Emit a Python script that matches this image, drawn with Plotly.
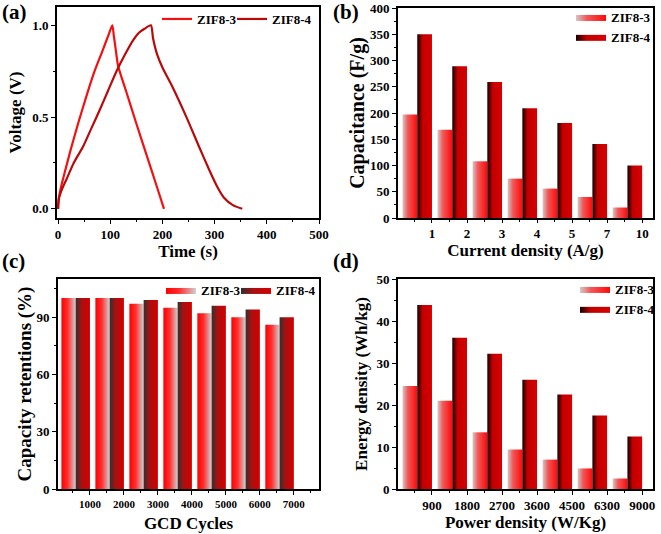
import plotly.graph_objects as go

FONT = "Liberation Serif"

# ---------------- data ----------------
# (a) GCD curves
time_zif3 = [0, 1, 5, 12, 25, 40, 55, 70, 85, 97, 104, 107, 110, 115, 130, 150, 170, 190, 203]
volt_zif3 = [0.0, 0.05, 0.11, 0.19, 0.33, 0.48, 0.62, 0.75, 0.86, 0.95, 1.0, 0.94, 0.88, 0.78, 0.645, 0.465, 0.29, 0.115, 0.0]
time_zif4 = [0, 2, 8, 16, 30, 48, 64, 80, 96, 112, 128, 144, 155, 165, 178,
             182, 190, 200, 220, 246, 270, 290, 305, 318, 335, 353]
volt_zif4 = [0.0, 0.06, 0.11, 0.16, 0.25, 0.34, 0.44, 0.54, 0.645, 0.75, 0.84, 0.92, 0.96, 0.98, 1.0,
             0.93, 0.84, 0.77, 0.66, 0.5, 0.34, 0.21, 0.12, 0.06, 0.02, 0.0]

# (b) capacitance
current_density = ["1", "2", "3", "4", "5", "7", "10"]
cap_zif3 = [197, 168, 108, 75, 56, 40, 20]
cap_zif4 = [350, 289, 259, 209, 181, 141, 100]

# (c) capacity retention
cycles = ["1000", "2000", "3000", "4000", "5000", "6000", "7000"]
ret_zif3 = [100, 100, 97, 95, 92, 90, 86]
ret_zif4 = [100, 100, 99, 98, 96, 94, 90]

# (d) Ragone
power_density = ["900", "1800", "2700", "3600", "4500", "6300", "9000"]
energy_zif3 = [24.5, 21, 13.5, 9.4, 7, 4.9, 2.5]
energy_zif4 = [43.8, 36, 32.2, 26, 22.5, 17.5, 12.5]

# ---------------- styles ----------------
BAR_W = 0.42
CS3_BD = [[0, "#d6c6c6"], [0.35, "#f05a5a"], [1, "#ff0808"]]
CS4_BD = [[0, "#120000"], [0.35, "#c00000"], [1, "#d80000"]]
CS3_C = [[0, "#ff0000"], [0.45, "#ff3030"], [1, "#d0d0d0"]]
CS4_C = [[0, "#303030"], [0.4, "#a81010"], [1, "#d40000"]]

fig = go.Figure()

# (a) lines
fig.add_trace(go.Scatter(x=time_zif3, y=volt_zif3, mode="lines", name="ZIF8-3", legendwidth=30,
                         line=dict(color="#f41010", width=2.2, shape="spline", smoothing=0.6),
                         xaxis="x", yaxis="y", legend="legend"))
fig.add_trace(go.Scatter(x=time_zif4, y=volt_zif4, mode="lines", name="ZIF8-4", legendwidth=44,
                         line=dict(color="#b80a0a", width=2.2, shape="spline", smoothing=0.6),
                         xaxis="x", yaxis="y", legend="legend"))


def add_bars(vals, slot, xa, ya, name, cs, legend, lw=None):
    for i, v in enumerate(vals):
        k = i + 1
        x0 = k - BAR_W * (2 - slot)
        x1 = x0 + BAR_W
        fig.add_trace(go.Scatter(
            x=[x0, x0, x1, x1, x0], y=[0, v, v, 0, 0],
            mode="lines", fill="toself", line=dict(width=0, color="rgba(0,0,0,0)"),
            fillgradient=dict(type="horizontal", colorscale=cs),
            name=name, legendgroup=legend + name, showlegend=(i == 0), legend=legend,
            legendwidth=lw, xaxis=xa, yaxis=ya, hoverinfo="skip"))


add_bars(cap_zif3, 0, "x2", "y2", "ZIF8-3", CS3_BD, "legend2")
add_bars(cap_zif4, 1, "x2", "y2", "ZIF8-4", CS4_BD, "legend2")
add_bars(ret_zif3, 0, "x3", "y3", "ZIF8-3", CS3_C, "legend3", lw=30)
add_bars(ret_zif4, 1, "x3", "y3", "ZIF8-4", CS4_C, "legend3", lw=44)
add_bars(energy_zif3, 0, "x4", "y4", "ZIF8-3", CS3_BD, "legend4")
add_bars(energy_zif4, 1, "x4", "y4", "ZIF8-4", CS4_BD, "legend4")

W, H = 661, 534


def px(x0, x1):
    return [x0 / W, x1 / W]


def py(top, bottom):
    return [1 - bottom / H, 1 - top / H]


def tfont(size=13):
    return dict(family=FONT, size=size, color="black", weight="bold")


def axis(domain, rng, title, tsize=17, standoff=4, **kw):
    d = dict(domain=domain, range=rng, showline=True, linecolor="black", linewidth=1.6,
             mirror=True, ticks="outside", ticklen=4, tickwidth=1.3, tickcolor="black",
             showgrid=False, zeroline=False, tickfont=tfont(13), automargin=False,
             title=dict(text=title, font=tfont(tsize), standoff=standoff))
    d.update(kw)
    return d


minor_cat = dict(tickmode="array", tickvals=[k + 0.5 for k in range(0, 8)],
                 ticks="outside", ticklen=2.5, tickwidth=1, tickcolor="black")

fig.update_layout(
    width=W, height=H, margin=dict(l=0, r=0, t=0, b=0, autoexpand=False),
    paper_bgcolor="white", plot_bgcolor="white",
    font=dict(family=FONT, color="black"),
    xaxis=axis(px(57, 319), [-2, 500], "Time (s)", anchor="y", tickvals=[0, 100, 200, 300, 400, 500],
               minor=dict(dtick=50, ticks="outside", ticklen=2.5, tickwidth=1, tickcolor="black")),
    yaxis=axis(py(7, 218), [-0.05, 1.1], "Voltage (V)", anchor="x", tickvals=[0, 0.5, 1.0],
               tickformat=".1f", standoff=6,
               minor=dict(dtick=0.25, ticks="outside", ticklen=2.5, tickwidth=1, tickcolor="black")),
    xaxis2=axis(px(398, 653), [0.03, 7.31], "Current density (A/g)", anchor="y2", standoff=0,
                ticklen=3, tickmode="array", tickvals=list(range(1, 8)), ticktext=current_density,
                minor=minor_cat),
    yaxis2=axis(py(8, 218), [0, 400], "Capacitance (F/g)", tsize=20, anchor="x2", dtick=50, standoff=0,
                minor=dict(dtick=25, ticks="outside", ticklen=2.5, tickwidth=1, tickcolor="black")),
    xaxis3=axis(px(58, 319), [0.06, 7.74], "GCD Cycles", anchor="y3", standoff=8,
                tickmode="array", tickvals=list(range(1, 8)), ticktext=cycles, minor=minor_cat,
                tickfont=tfont(11)),
    yaxis3=axis(py(279, 489), [0, 110], "Capacity retentions (%)", tsize=19, anchor="x3",
                tickvals=[0, 30, 60, 90], standoff=0,
                minor=dict(dtick=15, ticks="outside", ticklen=2.5, tickwidth=1, tickcolor="black")),
    xaxis4=axis(px(398, 653), [0.03, 7.31], "Power density (W/Kg)", anchor="y4",
                tickmode="array", tickvals=list(range(1, 8)), ticktext=power_density, minor=minor_cat),
    yaxis4=axis(py(279, 489), [0, 50], "Energy density (Wh/kg)", anchor="x4", dtick=10, standoff=5,
                minor=dict(dtick=5, ticks="outside", ticklen=2.5, tickwidth=1, tickcolor="black")),
    legend=dict(x=157 / W, y=1 - 4 / H, xanchor="left", yanchor="top", orientation="h",
                font=tfont(13), bgcolor="rgba(0,0,0,0)", tracegroupgap=0),
    legend2=dict(x=571 / W, y=1 - 2 / H, xanchor="left", yanchor="top",
                 font=tfont(13), bgcolor="rgba(0,0,0,0)", tracegroupgap=0),
    legend3=dict(x=161 / W, y=1 - 275 / H, xanchor="left", yanchor="top", orientation="h",
                 font=tfont(13), bgcolor="rgba(0,0,0,0)", tracegroupgap=0),
    legend4=dict(x=575 / W, y=1 - 274 / H, xanchor="left", yanchor="top",
                 font=tfont(13), bgcolor="rgba(0,0,0,0)", tracegroupgap=0),
)

for txt, xx, yy in [("(a)", 0, -2), ("(b)", 331, -2), ("(c)", 0, 247), ("(d)", 331, 247)]:
    fig.add_annotation(text=txt, x=xx / W, y=1 - yy / H, xref="paper", yref="paper",
                       xanchor="left", yanchor="top", showarrow=False, font=tfont(21))

fig.write_html("out.html", config={"displayModeBar": False},
               post_script="document.body.style.margin='0px';document.body.style.overflow='hidden';")
